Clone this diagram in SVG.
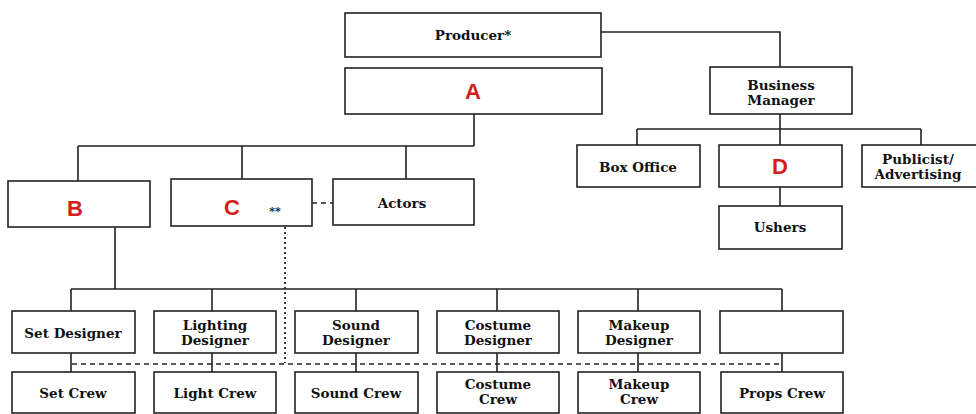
<svg xmlns="http://www.w3.org/2000/svg" width="976" height="414" viewBox="0 0 976 414">
<style>
.box{fill:#fff;stroke:#222;stroke-width:1.6}
.ln{fill:none;stroke:#222;stroke-width:1.6}
.dash{fill:none;stroke:#222;stroke-width:1.4;stroke-dasharray:5 4}
.dot{fill:none;stroke:#222;stroke-width:1.8;stroke-dasharray:2 3}
.t{font-family:"DejaVu Serif","Liberation Serif",serif;font-weight:bold;font-size:13.5px;fill:#111;text-anchor:middle}
.L{font-family:"Liberation Sans",Arial,sans-serif;font-weight:bold;font-size:22px;fill:#d41c1c;text-anchor:middle}
</style>
<rect width="976" height="414" fill="#fff"/>
<g id="connectors">
<path class="ln" d="M601 32H780V67"/>
<path class="ln" d="M474 114V146M78 146H474M78 146V181M242 146V179M406 146V179"/>
<path class="ln" d="M780 114V145M637 129H921M637 129V145M921 129V145M780 187V206"/>
<path class="dash" d="M312 203H333"/>
<path class="ln" d="M115 227V289M71 289H782M71 289V311M212 289V311M356 289V311M497 289V311M638 289V311M782 289V311"/>
<path class="ln" d="M71 353V372M212 353V372M356 353V372M497 353V372M638 353V372M782 353V372"/>
<path class="dot" d="M285 227V363"/>
<path class="dash" d="M72 364H782"/>
</g>
<g id="producer"><rect class="box" x="345" y="13" width="256" height="44"/><text class="t" x="473" y="40">Producer*</text></g>
<g id="nodeA"><rect class="box" x="345" y="68" width="257" height="46"/><text class="L" x="473" y="99">A</text></g>
<g id="business-manager"><rect class="box" x="710" y="67" width="142" height="47"/><text class="t" x="781" y="90">Business</text><text class="t" x="781" y="105">Manager</text></g>
<g id="box-office"><rect class="box" x="577" y="145" width="123" height="42"/><text class="t" x="638" y="172">Box Office</text></g>
<g id="nodeD"><rect class="box" x="719" y="145" width="123" height="42"/><text class="L" x="780" y="174">D</text></g>
<g id="publicist"><rect class="box" x="862" y="145" width="120" height="42"/><text class="t" x="918" y="164">Publicist/</text><text class="t" x="918" y="179">Advertising</text></g>
<g id="ushers"><rect class="box" x="719" y="206" width="123" height="43"/><text class="t" x="780" y="232">Ushers</text></g>
<g id="nodeB"><rect class="box" x="8" y="181" width="142" height="46"/><text class="L" x="75" y="216">B</text></g>
<g id="nodeC"><rect class="box" x="171" y="179" width="141" height="47"/><text class="L" x="232" y="215">C</text><text class="t" x="275" y="215" style="font-size:11px">**</text></g>
<g id="actors"><rect class="box" x="333" y="179" width="141" height="46"/><text class="t" x="402" y="208">Actors</text></g>
<g id="set-designer"><rect class="box" x="12" y="311" width="123" height="42"/><text class="t" x="73" y="338">Set Designer</text></g>
<g id="lighting-designer"><rect class="box" x="154" y="311" width="122" height="42"/><text class="t" x="215" y="330">Lighting</text><text class="t" x="215" y="345">Designer</text></g>
<g id="sound-designer"><rect class="box" x="295" y="311" width="123" height="42"/><text class="t" x="356" y="330">Sound</text><text class="t" x="356" y="345">Designer</text></g>
<g id="costume-designer"><rect class="box" x="437" y="311" width="122" height="42"/><text class="t" x="498" y="330">Costume</text><text class="t" x="498" y="345">Designer</text></g>
<g id="makeup-designer"><rect class="box" x="578" y="311" width="122" height="42"/><text class="t" x="639" y="330">Makeup</text><text class="t" x="639" y="345">Designer</text></g>
<g id="blank"><rect class="box" x="720" y="311" width="123" height="42"/></g>
<g id="set-crew"><rect class="box" x="12" y="372" width="123" height="41"/><text class="t" x="73" y="398">Set Crew</text></g>
<g id="light-crew"><rect class="box" x="154" y="372" width="122" height="41"/><text class="t" x="215" y="398">Light Crew</text></g>
<g id="sound-crew"><rect class="box" x="295" y="372" width="123" height="41"/><text class="t" x="356" y="398">Sound Crew</text></g>
<g id="costume-crew"><rect class="box" x="437" y="372" width="122" height="41"/><text class="t" x="498" y="389">Costume</text><text class="t" x="498" y="404">Crew</text></g>
<g id="makeup-crew"><rect class="box" x="578" y="372" width="122" height="41"/><text class="t" x="639" y="389">Makeup</text><text class="t" x="639" y="404">Crew</text></g>
<g id="props-crew"><rect class="box" x="721" y="372" width="122" height="41"/><text class="t" x="782" y="398">Props Crew</text></g>
</svg>
